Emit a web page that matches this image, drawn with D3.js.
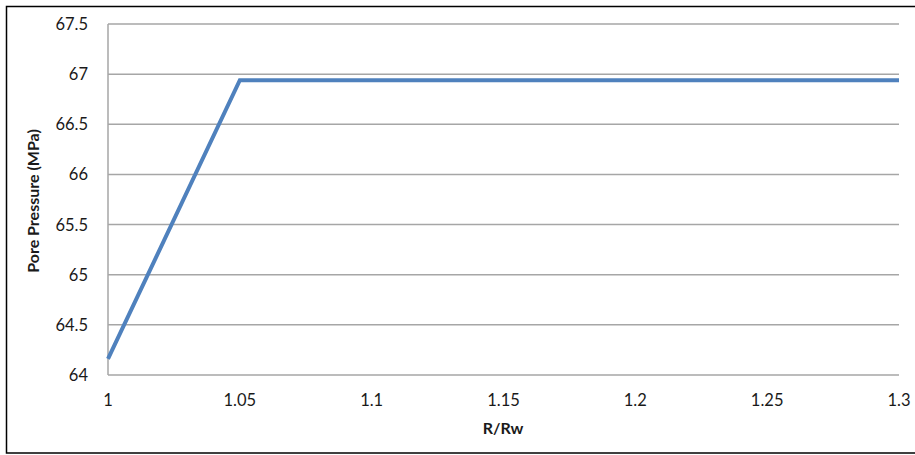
<!DOCTYPE html>
<html><head><meta charset="utf-8">
<script src="https://cdn.jsdelivr.net/npm/d3@7"></script>
<style>body{margin:0;background:#fff}svg{display:block}text{font-family:Lato,"Open Sans",sans-serif;fill:#1a1a1a}</style>
</head><body><svg id="c" width="915" height="455"></svg>
<script>
const rRatio = [1.0, 1.05, 1.1, 1.15, 1.2, 1.25, 1.3];
const porePressure = [64.16, 66.94, 66.94, 66.94, 66.94, 66.94, 66.94];
const xTicks = [1, 1.05, 1.1, 1.15, 1.2, 1.25, 1.3];
const xTickLabels = ["1", "1.05", "1.1", "1.15", "1.2", "1.25", "1.3"];
const yTicks = [64, 64.5, 65, 65.5, 66, 66.5, 67, 67.5];
const yTickLabels = ["64", "64.5", "65", "65.5", "66", "66.5", "67", "67.5"];

const svg = d3.select("#c");
const m = {l:108, r:899, t:24, b:375};
const x = d3.scaleLinear().domain([1, 1.3]).range([m.l, m.r]);
const y = d3.scaleLinear().domain([64, 67.5]).range([m.b, m.t]);

// outer frame
svg.append("rect").attr("x",6.5).attr("y",6.5).attr("width",920).attr("height",446.5)
  .attr("fill","none").attr("stroke","#000").attr("stroke-width",1.5);

// gridlines
svg.append("g").selectAll("line").data(yTicks).join("line")
  .attr("x1",m.l).attr("x2",m.r).attr("y1",d=>y(d)).attr("y2",d=>y(d))
  .attr("stroke","#a6a6a6").attr("stroke-width",1.5);
// left axis line
svg.append("line").attr("x1",m.l).attr("x2",m.l).attr("y1",m.t).attr("y2",m.b)
  .attr("stroke","#a6a6a6").attr("stroke-width",1.5);

// y tick labels
svg.append("g").selectAll("text").data(yTicks).join("text")
  .attr("x",88).attr("y",d=>y(d)+6).attr("text-anchor","end")
  .style("font-size","16.5px").text((d,i)=>yTickLabels[i]);
// x tick labels
svg.append("g").selectAll("text").data(xTicks).join("text")
  .attr("x",d=>x(d)).attr("y",406).attr("text-anchor","middle")
  .style("font-size","16.5px").text((d,i)=>xTickLabels[i]);

// axis titles
svg.append("text").attr("x",503).attr("y",434).attr("text-anchor","middle")
  .style("font-size","16px").style("font-weight","bold").text("R/Rw");
svg.append("text").attr("transform","translate(39,201) rotate(-90)").attr("text-anchor","middle")
  .style("font-size","16px").style("font-weight","bold").text("Pore Pressure (MPa)");

// line
const line = d3.line().x((d,i)=>x(rRatio[i])).y(d=>y(d));
svg.append("path").datum(porePressure).attr("d",line)
  .attr("fill","none").attr("stroke","#4f81bd").attr("stroke-width",4).attr("stroke-linejoin","miter");
</script></body></html>
